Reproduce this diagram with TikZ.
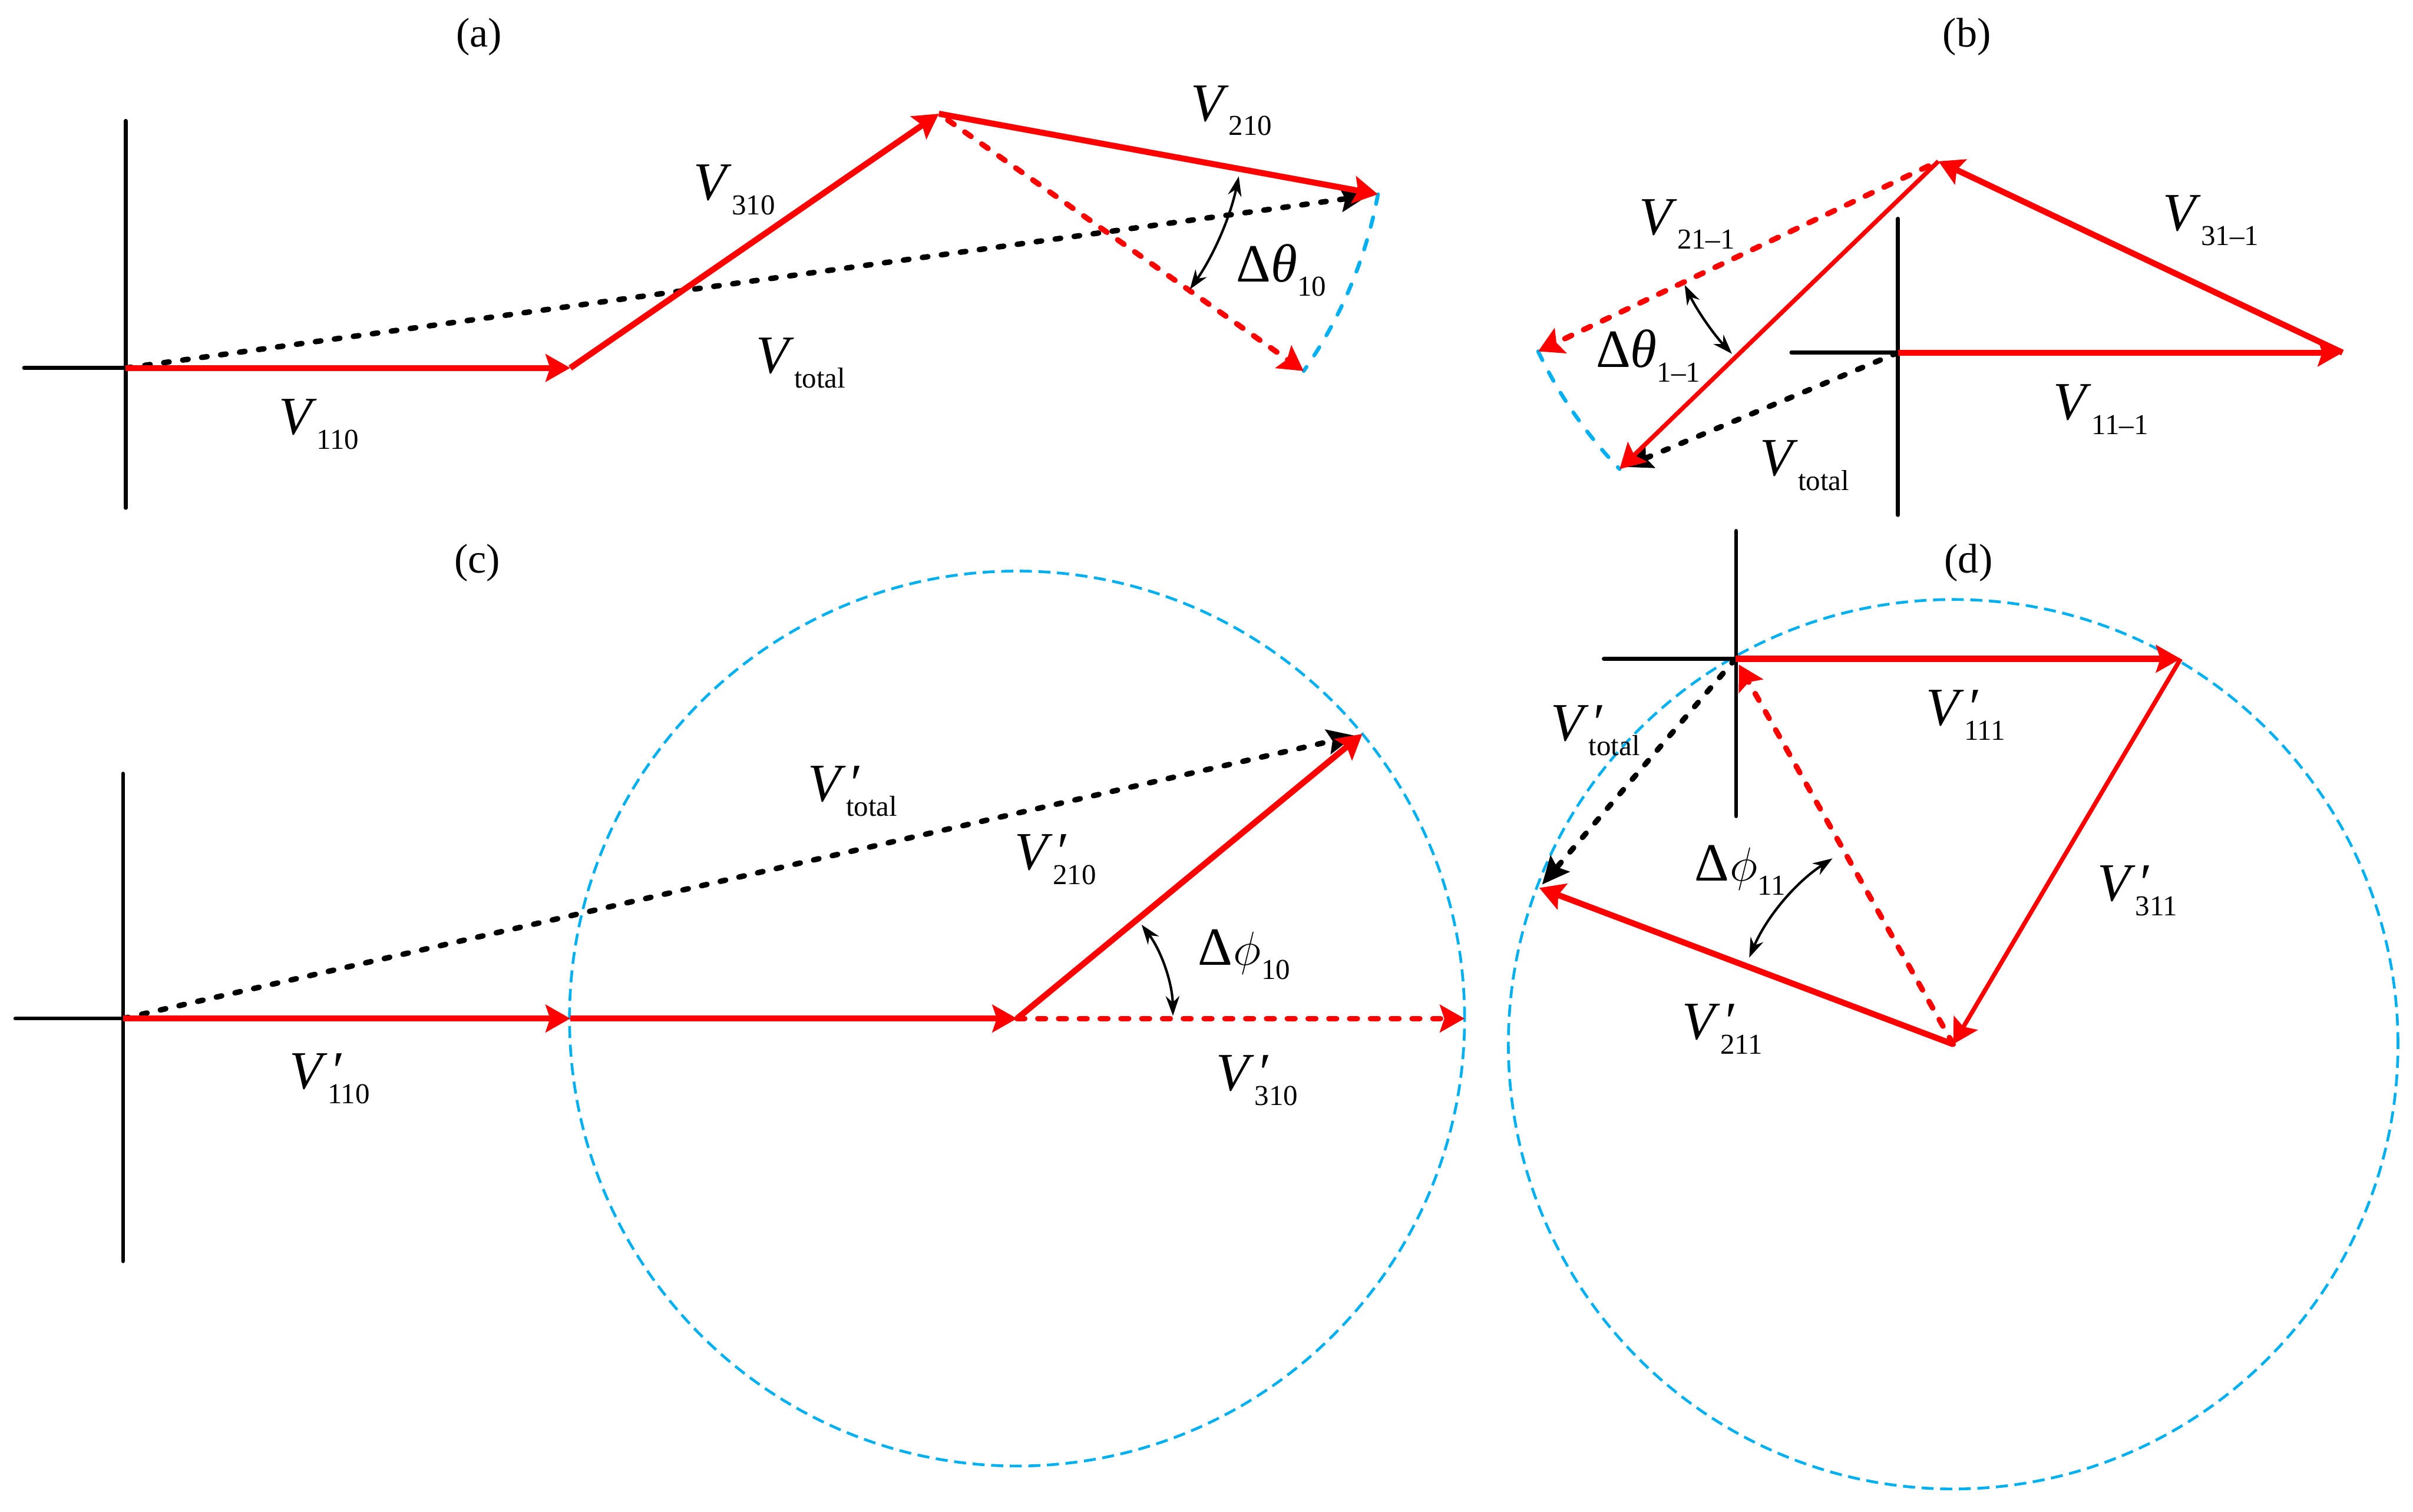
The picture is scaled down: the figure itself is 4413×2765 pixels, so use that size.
\documentclass[tikz,border=0pt]{standalone}
\usepackage{fontspec}
\setmainfont{Liberation Serif}
\usetikzlibrary{arrows.meta,calc}
\definecolor{vred}{RGB}{255,0,0}
\definecolor{vblue}{RGB}{0,176,240}
\newcommand{\subt}[1]{\raisebox{-0.27em}{\fontsize{15}{15}\selectfont #1}}
\newcommand{\Vs}[1]{\textit{V}\subt{#1}}
\newcommand{\Vps}[1]{\textit{V}\rlap{\kern0.03em\textit{′}}\subt{#1}}
\newcommand{\Dth}[1]{Δ\textit{θ}\subt{#1}}
\newcommand{\Dph}[1]{Δ\kern0.02em$\phi$\subt{#1}}
\tikzset{
  vec/.style={vred, line width=0.11cm, -{Stealth[length=0.45cm,width=0.5cm,inset=0.08cm]}},
  vecthin/.style={vec, line width=0.08cm},
  vecdash/.style={vec, line width=0.1cm, line cap=round, dash pattern=on 0.14cm off 0.24cm},
  tot/.style={black, line width=0.1cm, line cap=round, dash pattern=on 0.1cm off 0.25cm,
    -{Stealth[length=0.5cm,width=0.45cm,inset=0.08cm]}},
  axisline/.style={black, line width=0.07cm, line cap=round},
  ring/.style={vblue, line width=0.05cm, dash pattern=on 0.22cm off 0.12cm},
  swing/.style={vblue, line width=0.07cm, line cap=round, dash pattern=on 0.18cm off 0.25cm},
  ang/.style={black, line width=0.045cm,
    {Stealth[length=0.36cm,width=0.25cm]}-{Stealth[length=0.36cm,width=0.25cm]}},
  lab/.style={anchor=base west, inner sep=0pt, font=\fontsize{28}{30}\selectfont},
  capt/.style={inner sep=0pt, font=\fontsize{21.5}{24}\selectfont}
}
\begin{document}
\begin{tikzpicture}[x=0.01cm,y=-0.01cm]
\path[use as bounding box] (0,0) rectangle (4413,2765);

% ---------------- (a) ----------------
\coordinate (Oa) at (230,673);
\coordinate (A1) at (1043,673);
\coordinate (A2) at (1717,208);
\coordinate (A3) at ($(A2)+(-10.4:8.16cm)$);
\coordinate (A4) at ($(A2)+(-35.2:8.16cm)$);
\coordinate (Aax1) at (230,221);
\coordinate (Aax2) at (230,929);
\coordinate (Aax3) at (44,673);
\coordinate (aa1) at ($(A2)+(-11.8:5.6cm)$);
\draw[axisline] (Aax1) -- (Aax2);
\draw[axisline] (Aax3) -- (Oa);
\draw[swing] (A3) arc[start angle=-10.4, end angle=-35.2, radius=8.16cm];
\draw[tot, shorten >=0.18cm] (Oa) -- (A3);
\draw[vecdash, shorten <=0.2cm] (A2) -- (A4);
\draw[vec] (Oa) -- (A1);
\draw[vec] (A1) -- (A2);
\draw[vec] (A2) -- (A3);
\draw[ang] (aa1) arc[start angle=-11.8, end angle=-35, radius=5.6cm];
\node[capt] (ca) at (876,67) {(a)};
\node[lab] (la1) at (2177,221) {\Vs{210}};
\node[lab] (la2) at (1268,366) {\Vs{310}};
\node[lab] (la3) at (1382,683) {\Vs{total}};
\node[lab] (la4) at (509,795) {\Vs{110}};
\node[lab] (la5) at (2260,515) {\Dth{10}};

% ---------------- (b) ----------------
\coordinate (Ob) at (3471,645);
\coordinate (B1) at (4284,645);
\coordinate (B2) at (3545,295);
\coordinate (B3) at ($(B2)+(224:8.1cm)$);
\coordinate (B4) at ($(B2)+(205.4:8.1cm)$);
\coordinate (Bax1) at (3471,400);
\coordinate (Bax2) at (3471,942);
\coordinate (Bax3) at (3276,645);
\coordinate (bb1) at ($(B2)+(206:5.16cm)$);
\draw[axisline] (Bax1) -- (Bax2);
\draw[axisline] (Bax3) -- (Ob);
\draw[swing] (B4) arc[start angle=205.4, end angle=224, radius=8.1cm];
\draw[tot, shorten >=0.1cm] (Ob) -- (B3);
\draw[vecdash, shorten <=0.2cm] (B2) -- (B4);
\draw[vec] (Ob) -- (B1);
\draw[vec] (B1) -- (B2);
\draw[vecthin] (B2) -- (B3);
\draw[ang] (bb1) arc[start angle=206, end angle=223, radius=5.16cm];
\node[capt] (cb) at (3597,67) {(b)};
\node[lab] (lb1) at (2997,429) {\Vs{21–1}};
\node[lab] (lb2) at (3955,422) {\Vs{31–1}};
\node[lab] (lb3) at (2918,672) {\Dth{1–1}};
\node[lab] (lb4) at (3755,768) {\Vs{11–1}};
\node[lab] (lb5) at (3218,870) {\Vs{total}};

% ---------------- (c) ----------------
\coordinate (Oc) at (225,1863);
\coordinate (C1) at (1043,1863);
\coordinate (C2) at (1860,1863);
\coordinate (C3) at ($(C2)+(0:8.18cm)$);
\coordinate (C4) at ($(C2)+(39.5:8.18cm)$);
\coordinate (Cax1) at (225,1415);
\coordinate (Cax2) at (225,2307);
\coordinate (Cax3) at (28,1863);
\coordinate (cc1) at ($(C2)+(37:2.85cm)$);
\draw[ring] (C2) circle[radius=8.18cm];
\draw[axisline] (Cax1) -- (Cax2);
\draw[axisline] (Cax3) -- (Oc);
\draw[tot, shorten >=0.14cm] (Oc) -- (C4);
\draw[vecdash] (C2) -- (C3);
\draw[vec] (Oc) -- (C1);
\draw[vec] (C1) -- (C2);
\draw[vec] (C2) -- (C4);
\draw[ang] (cc1) arc[start angle=37, end angle=1, radius=2.85cm];
\node[capt] (cc) at (873,1030) {(c)};
\node[lab] (lc1) at (1477,1466) {\Vps{total}};
\node[lab] (lc2) at (1855,1591) {\Vps{210}};
\node[lab] (lc3) at (2190,1765) {\Dph{10}};
\node[lab] (lc4) at (529,1992) {\Vps{110}};
\node[lab] (lc5) at (2224,1995) {\Vps{310}};

% ---------------- (d) ----------------
\coordinate (Od) at (3174,1205);
\coordinate (D1) at (3988,1205);
\coordinate (D2) at (3572,1910);
\coordinate (D3) at (2815,1624);
\coordinate (Dax1) at (3175,971);
\coordinate (Dax2) at (3175,1493);
\coordinate (Dax3) at (2933,1205);
\coordinate (dd1) at ($(D2)+(123:4.05cm)$);
\draw[ring] (D2) circle[radius=8.13cm];
\draw[axisline] (Dax1) -- (Dax2);
\draw[axisline] (Dax3) -- (Od);
\draw[tot, shorten >=0.08cm] (Od) -- (D3);
\draw[vecdash, shorten >=0.12cm] (D2) -- (Od);
\draw[vec] (Od) -- (D1);
\draw[vecthin] (D1) -- (D2);
\draw[vec] (D2) -- (D3);
\draw[ang] (dd1) arc[start angle=123, end angle=157, radius=4.05cm];
\node[capt] (cd) at (3600,1030) {(d)};
\node[lab] (ld1) at (2835,1355) {\Vps{total}};
\node[lab] (ld2) at (3522,1327) {\Vps{111}};
\node[lab] (ld3) at (3098,1611) {\Dph{11}};
\node[lab] (ld4) at (3835,1648) {\Vps{311}};
\node[lab] (ld5) at (3076,1901) {\Vps{211}};
\end{tikzpicture}
\end{document}
